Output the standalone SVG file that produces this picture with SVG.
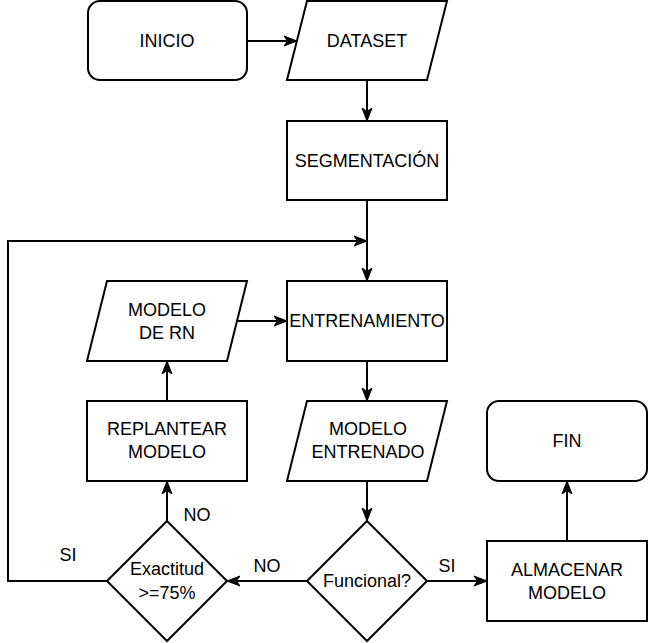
<svg xmlns="http://www.w3.org/2000/svg" width="648" height="643" viewBox="0 0 648 643">
<defs>
<style>
.s{fill:#fff;stroke:#000;stroke-width:2}
.c{fill:none;stroke:#000;stroke-width:2}
text{font-family:"Liberation Sans",Arial,sans-serif;font-size:18px;fill:#000;text-anchor:middle}
</style>
<marker id="a" markerUnits="userSpaceOnUse" markerWidth="14" markerHeight="12" viewBox="0 0 14 12" refX="13" refY="6" orient="auto">
<path d="M0,1 L13,6 L0,11 L3.5,6 z" fill="#000" stroke="#000" stroke-width="1"/>
</marker>
</defs>
<rect width="648" height="643" fill="#fff"/>
<g id="connectors">
<path class="c" d="M247,41 H297" marker-end="url(#a)"/>
<path class="c" d="M367,80 V121" marker-end="url(#a)"/>
<path class="c" d="M367,200 V281" marker-end="url(#a)"/>
<path class="c" d="M107,581 H8 V241 H367" marker-end="url(#a)"/>
<path class="c" d="M238,321 H287" marker-end="url(#a)"/>
<path class="c" d="M367,361 V401" marker-end="url(#a)"/>
<path class="c" d="M367,481 V521" marker-end="url(#a)"/>
<path class="c" d="M307,581 H227" marker-end="url(#a)"/>
<path class="c" d="M427,581 H487" marker-end="url(#a)"/>
<path class="c" d="M167,521 V481" marker-end="url(#a)"/>
<path class="c" d="M167,401 V361" marker-end="url(#a)"/>
<path class="c" d="M567,541 V481" marker-end="url(#a)"/>
<text x="68" y="561">SI</text>
<text x="197" y="521">NO</text>
<text x="267" y="572">NO</text>
<text x="447" y="572">SI</text>
</g>
<g id="inicio">
<rect class="s" x="88" y="1" width="159" height="79" rx="12"/>
<text x="167" y="47">INICIO</text>
</g>
<g id="dataset">
<path class="s" d="M307,1 H447 L427,80 H287 Z"/>
<text x="367" y="47">DATASET</text>
</g>
<g id="segmentacion">
<rect class="s" x="287" y="121" width="160" height="79"/>
<text x="367" y="167">SEGMENTACIÓN</text>
</g>
<g id="modelo-rn">
<path class="s" d="M107,281 H247 L227,361 H87 Z"/>
<text x="167" y="316">MODELO</text>
<text x="167" y="339">DE RN</text>
</g>
<g id="entrenamiento">
<rect class="s" x="287" y="281" width="160" height="80"/>
<text x="367" y="327">ENTRENAMIENTO</text>
</g>
<g id="replantear">
<rect class="s" x="87" y="401" width="160" height="80"/>
<text x="167" y="435">REPLANTEAR</text>
<text x="167" y="458">MODELO</text>
</g>
<g id="modelo-entrenado">
<path class="s" d="M307,401 H447 L427,481 H287 Z"/>
<text x="368" y="435">MODELO</text>
<text x="368" y="458">ENTRENADO</text>
</g>
<g id="fin">
<rect class="s" x="487" y="401" width="160" height="80" rx="12"/>
<text x="567" y="447">FIN</text>
</g>
<g id="exactitud">
<path class="s" d="M167,521 L227,581 L167,641 L107,581 Z"/>
<text x="167" y="575">Exactitud</text>
<text x="167" y="599">&gt;=75%</text>
</g>
<g id="funcional">
<path class="s" d="M367,521 L427,581 L367,641 L307,581 Z"/>
<text x="367" y="587">Funcional?</text>
</g>
<g id="almacenar">
<rect class="s" x="487" y="541" width="160" height="80"/>
<text x="567" y="576">ALMACENAR</text>
<text x="567" y="599">MODELO</text>
</g>
</svg>
